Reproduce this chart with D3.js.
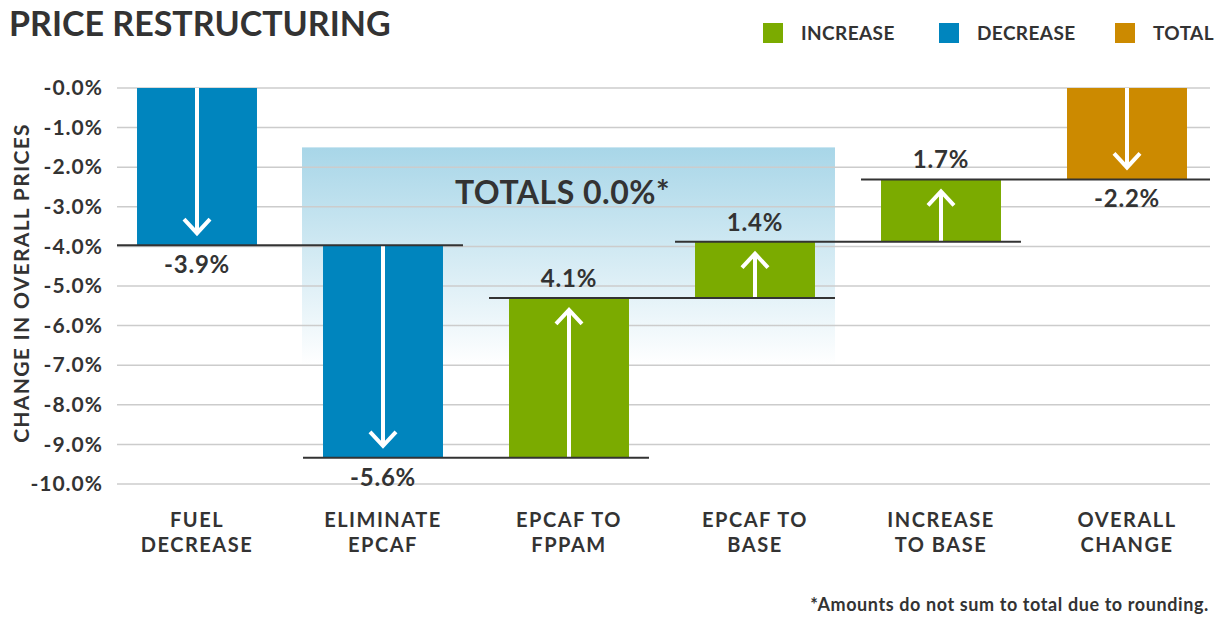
<!DOCTYPE html>
<html>
<head>
<meta charset="utf-8">
<script src="https://cdn.jsdelivr.net/npm/d3@7/dist/d3.min.js"></script>
<style>
  body { margin: 0; background: #fff; }
  svg { display: block; font-family: Lato, "Noto Sans", sans-serif; }
</style>
</head>
<body>
<svg id="chart" width="1220" height="620"></svg>
<script>
// categories, two lines each
const categories = [
  ["FUEL", "DECREASE"],
  ["ELIMINATE", "EPCAF"],
  ["EPCAF TO", "FPPAM"],
  ["EPCAF TO", "BASE"],
  ["INCREASE", "TO BASE"],
  ["OVERALL", "CHANGE"]
];
// where each floating bar starts and ends (% change)
const barStart = [0, -3.97, -9.34, -5.30, -3.88, 0];
const barEnd = [-3.97, -9.34, -5.30, -3.88, -2.31, -2.31];
const barType = ["decrease", "decrease", "increase", "increase", "increase", "total"];
const valueLabels = ["-3.9%", "-5.6%", "4.1%", "1.4%", "1.7%", "-2.2%"];
const yTicks = [0, -1, -2, -3, -4, -5, -6, -7, -8, -9, -10];
const legendItems = ["INCREASE", "DECREASE", "TOTAL"];
// shaded "totals" box: covers bars 1..3
const boxFrom = 1, boxTo = 3, boxTop = -1.5, boxBottom = -7.0;
const boxLabel = "TOTALS 0.0%*";

const colors = { increase: "#7bab00", decrease: "#0085be", total: "#cc8a00" };
const ink = "#333333";

const svg = d3.select("#chart");

const x = d3.scaleBand()
  .domain(d3.range(categories.length))
  .range([104, 1220])
  .paddingInner(0.355)
  .paddingOuter(0.1775);
const bw = x.bandwidth();

const y = d3.scaleLinear().domain([0, -10]).range([88, 484]);

// title
svg.append("text")
  .attr("x", 9).attr("y", 36)
  .attr("font-size", 34).attr("font-weight", 700)
  .attr("fill", ink)
  .text("PRICE RESTRUCTURING");

// legend
const legendX = [763, 939, 1115];
legendItems.forEach((name, i) => {
  const key = name === "TOTAL" ? "total" : name.toLowerCase();
  svg.append("rect")
    .attr("x", legendX[i]).attr("y", 23)
    .attr("width", 20).attr("height", 20)
    .attr("fill", colors[key]);
  svg.append("text")
    .attr("x", legendX[i] + 38).attr("y", 40)
    .attr("font-size", 19).attr("font-weight", 700)
    .attr("letter-spacing", 0.4)
    .attr("fill", ink)
    .text(name);
});

// shaded box behind bars
const grad = svg.append("defs").append("linearGradient")
  .attr("id", "boxFade").attr("x1", 0).attr("y1", 0).attr("x2", 0).attr("y2", 1);
grad.append("stop").attr("offset", "0%").attr("stop-color", "#a8d6e8");
grad.append("stop").attr("offset", "100%").attr("stop-color", "#ffffff");

const boxX0 = x(boxFrom) - 21, boxX1 = x(boxTo) + bw + 20;
svg.append("rect")
  .attr("x", boxX0)
  .attr("y", y(boxTop))
  .attr("width", boxX1 - boxX0)
  .attr("height", y(boxBottom) - y(boxTop))
  .attr("fill", "url(#boxFade)");

// gridlines
svg.append("g")
  .selectAll("line")
  .data(yTicks)
  .join("line")
  .attr("x1", 117).attr("x2", 1210)
  .attr("y1", d => y(d)).attr("y2", d => y(d))
  .attr("stroke", "#cccccc").attr("stroke-width", 1.5);

// y axis labels
const yAxis = d3.axisLeft(y)
  .tickValues(yTicks)
  .tickSize(0)
  .tickPadding(0)
  .tickFormat(d => "-" + Math.abs(d).toFixed(1) + "%");
const gy = svg.append("g").attr("transform", "translate(103,0)").call(yAxis);
gy.select(".domain").remove();
gy.selectAll("text")
  .attr("font-size", 21).attr("font-weight", 700)
  .attr("letter-spacing", 1)
  .attr("fill", ink).attr("font-family", "Lato, sans-serif");

// y axis title
svg.append("text")
  .attr("transform", "translate(29,283) rotate(-90)")
  .attr("text-anchor", "middle")
  .attr("font-size", 21).attr("font-weight", 700)
  .attr("letter-spacing", 1.3)
  .attr("fill", ink)
  .text("CHANGE IN OVERALL PRICES");

// box label
svg.append("text")
  .attr("x", (boxX0 + boxX1) / 2 - 6)
  .attr("y", y(-2.92))
  .attr("text-anchor", "middle")
  .attr("font-size", 32).attr("font-weight", 700)
  .attr("letter-spacing", 0.5)
  .attr("fill", ink)
  .text(boxLabel);

// bars
const idx = d3.range(categories.length);
svg.append("g")
  .selectAll("rect")
  .data(idx)
  .join("rect")
  .attr("x", i => x(i))
  .attr("width", bw)
  .attr("y", i => y(Math.max(barStart[i], barEnd[i])))
  .attr("height", i => Math.abs(y(barStart[i]) - y(barEnd[i])))
  .attr("fill", i => colors[barType[i]]);

// arrows inside bars
const arrows = svg.append("g")
  .attr("stroke", "#fff").attr("stroke-width", 4).attr("fill", "none");
idx.forEach(i => {
  const cx = x(i) + bw / 2;
  const y0 = y(barStart[i]);
  const y1 = y(barEnd[i]);
  const dir = y1 > y0 ? 1 : -1;
  const tip = y1 - dir * 12;
  arrows.append("line")
    .attr("x1", cx).attr("x2", cx)
    .attr("y1", y0).attr("y2", tip);
  arrows.append("path")
    .attr("d", `M${cx - 13},${tip - dir * 14}L${cx},${tip}L${cx + 13},${tip - dir * 14}`);
});

// connector lines
svg.append("g")
  .selectAll("line")
  .data(idx.slice(0, -1))
  .join("line")
  .attr("x1", i => i === 0 ? 117 : x(i) - 20)
  .attr("x2", i => i === categories.length - 2 ? 1210 : x(i + 1) + bw + 20)
  .attr("y1", i => y(barEnd[i]))
  .attr("y2", i => y(barEnd[i]))
  .attr("stroke", ink).attr("stroke-width", 2);

// value labels
svg.append("g")
  .selectAll("text")
  .data(idx)
  .join("text")
  .attr("x", i => x(i) + bw / 2)
  .attr("y", i => barType[i] === "increase" ? y(barEnd[i]) - 11 : y(barEnd[i]) + 28)
  .attr("text-anchor", "middle")
  .attr("font-size", 24).attr("font-weight", 700)
  .attr("letter-spacing", 0.8)
  .attr("fill", ink)
  .text(i => valueLabels[i]);

// category labels, one text per line
const xl = svg.append("g");
idx.forEach(i => {
  categories[i].forEach((line, k) => {
    xl.append("text")
      .attr("x", x(i) + bw / 2)
      .attr("y", 527 + k * 24.5)
      .attr("text-anchor", "middle")
      .attr("font-size", 20).attr("font-weight", 700)
      .attr("letter-spacing", 1.5)
      .attr("fill", ink)
      .text(line);
  });
});

// footnote
svg.append("text")
  .attr("x", 1209).attr("y", 611)
  .attr("text-anchor", "end")
  .attr("font-size", 18).attr("font-weight", 700)
  .attr("letter-spacing", 0.6)
  .attr("fill", ink)
  .text("*Amounts do not sum to total due to rounding.");
</script>
</body>
</html>
